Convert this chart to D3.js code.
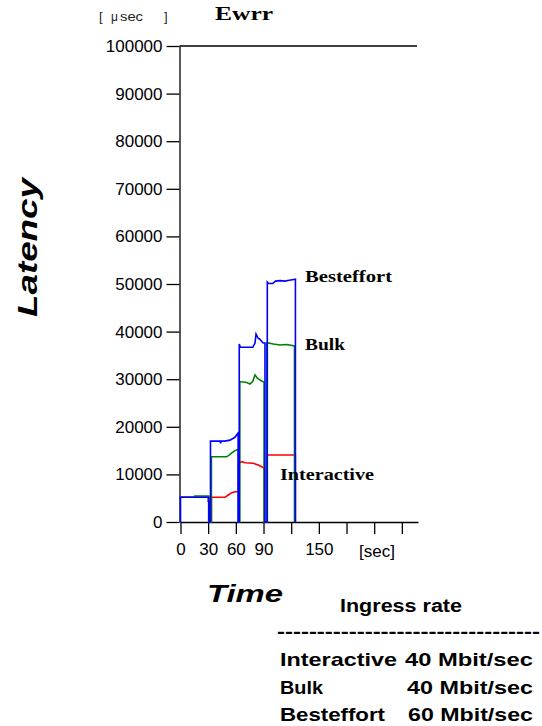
<!DOCTYPE html>
<html>
<head>
<meta charset="utf-8">
<script src="https://cdn.jsdelivr.net/npm/d3@7"></script>
<style>
  html, body { margin: 0; padding: 0; background: #fff; }
  svg { display: block; }
</style>
</head>
<body>
<script>
// ---- Data (time in sec, latency in microseconds) ----
const latencyTicks = [0, 10000, 20000, 30000, 40000, 50000, 60000, 70000, 80000, 90000, 100000];
const timeTicks = [0, 30, 60, 90, 120, 150, 180, 210, 240];
const timeTickLabels = ["0", "30", "60", "90", "", "150", "", "", ""];

const interactiveSeries = [
  [0, 5200], [31, 5200], [31, 0], [33.5, 0], [33.5, 5200], [48.3, 5200], [51.9, 5670], [55.5, 6160],
  [59.1, 6370], [62.9, 6370], [62.9, 12330], [66.3, 12670], [69.9, 12460], [78.9, 12330],
  [84.3, 11970], [88, 11600], [91, 11260], [91, 0], [93.8, 0], [93.8, 14080], [124.5, 14080], [124.5, 0]
];
const bulkSeries = [
  [0, 5200], [15.5, 5200], [15.5, 5450], [30.5, 5450], [30.5, 0], [33.5, 0], [33.5, 13700], [50, 13700],
  [53, 14100], [56, 14560], [59, 15000], [62.7, 15300], [62.7, 0], [64.3, 0], [64.3, 29500],
  [71.8, 29300], [75.4, 29000], [78.3, 29500], [80.8, 30900], [83.3, 30200], [88, 29600],
  [90.6, 29400], [90.6, 0], [93.6, 0], [93.6, 37670], [100.7, 37400], [108, 37200], [115.2, 37300],
  [123.6, 37000], [123.6, 0]
];
const bestEffortSeries = [
  [0, 0], [0, 5200], [30.2, 5200], [30.2, 4300], [30.8, 4300], [30.8, 0], [32.5, 0], [32.5, 17000],
  [43, 17000], [43.5, 16500], [44, 17000], [48, 17000], [53.7, 17200], [59, 17800], [62.5, 18700],
  [62.5, 0], [63.7, 0], [63.7, 37400], [64.8, 36700], [78.3, 36700], [80.8, 37600], [81.9, 39500],
  [84.2, 38600], [86, 38400], [89.6, 37600], [91.6, 37600], [91.6, 0], [94.1, 0], [94.1, 50400],
  [95.5, 50100], [100, 50100], [103, 50600], [108, 50700], [113, 50600], [118, 50800],
  [124.6, 51000], [124.6, 0]
];
const seriesNames = ["Interactive", "Bulk", "Besteffort"];
const seriesColors = ["#ff0000", "#008000", "#0000ff"];
const ingressNames = ["Interactive", "Bulk", "Besteffort"];
const ingressRates = ["40 Mbit/sec", "40 Mbit/sec", "60 Mbit/sec"];

// ---- Chart ----
const W = 542, H = 726;
const svg = d3.select("body").append("svg").attr("width", W).attr("height", H);
svg.append("rect").attr("width", W).attr("height", H).attr("fill", "#fff");

const x = d3.scaleLinear().domain([0, 257.5]).range([180.5, 418]);
const y = d3.scaleLinear().domain([0, 100000]).range([522, 46]);

const sans = "'Liberation Sans', Arial, sans-serif";
const serif = "'Liberation Serif', 'Times New Roman', serif";

// Y axis
const yAxis = svg.append("g").attr("transform", "translate(179.5,0)")
  .call(d3.axisLeft(y).tickValues(latencyTicks).tickSize(13).tickSizeOuter(0).tickPadding(4)
    .tickFormat(d3.format("d")));
yAxis.selectAll("text").attr("font-family", sans).attr("font-size", 17).attr("fill", "#000");
yAxis.selectAll("line, path").attr("stroke", "#000").attr("stroke-width", 1.3);

// top line at 100000
svg.append("line").attr("x1", x(0) - 1).attr("x2", 417).attr("y1", y(100000)).attr("y2", y(100000))
  .attr("stroke", "#000").attr("stroke-width", 1.3);

// X axis
const xAxis = svg.append("g").attr("transform", "translate(0,522)")
  .call(d3.axisBottom(x).tickValues(timeTicks).tickSize(12).tickSizeOuter(0).tickPadding(9)
    .tickFormat((d, i) => timeTickLabels[i]));
xAxis.selectAll("text").attr("font-family", sans).attr("font-size", 17).attr("fill", "#000");
xAxis.selectAll("line, path").attr("stroke", "#000").attr("stroke-width", 1.3);
svg.append("text").attr("x", x(213)).attr("y", 557).attr("text-anchor", "middle")
  .attr("font-family", sans).attr("font-size", 17).text("[sec]");

// Series
const line = d3.line().x(d => x(d[0])).y(d => y(d[1]));
const allSeries = [interactiveSeries, bulkSeries, bestEffortSeries];
allSeries.forEach((s, i) => {
  svg.append("path").datum(s).attr("d", line).attr("fill", "none")
    .attr("stroke", seriesColors[i]).attr("stroke-width", 1.6);
});

// Series labels
const seriesLabelPos = [[280, 480, 94], [305, 350, 40], [305, 282, 87]];
seriesNames.forEach((n, i) => {
  const p = seriesLabelPos[i];
  svg.append("text").attr("x", p[0]).attr("y", p[1]).attr("font-family", serif)
    .attr("font-weight", "bold").attr("font-size", 16)
    .attr("textLength", p[2]).attr("lengthAdjust", "spacingAndGlyphs").text(n);
});

// Titles
svg.append("text").attr("x", 215).attr("y", 20).attr("font-family", serif).attr("font-weight", "bold")
  .attr("font-size", 18).attr("textLength", 58).attr("lengthAdjust", "spacingAndGlyphs").text("Ewrr");
const unitG = svg.append("g").attr("font-family", sans).attr("font-size", 13).attr("fill", "#222");
unitG.append("text").attr("x", 99).attr("y", 21).text("[");
unitG.append("text").attr("x", 111).attr("y", 21).attr("font-size", 12).text("μ");
unitG.append("text").attr("x", 120).attr("y", 21).attr("textLength", 23).attr("lengthAdjust", "spacingAndGlyphs").text("sec");
unitG.append("text").attr("x", 164).attr("y", 21).text("]");

svg.append("text").attr("transform", "translate(37,247.5) rotate(-90)").attr("text-anchor", "middle")
  .attr("font-family", sans).attr("font-weight", "bold").attr("font-style", "italic").attr("font-size", 28)
  .attr("textLength", 139).attr("lengthAdjust", "spacingAndGlyphs").text("Latency");

svg.append("text").attr("x", 207).attr("y", 602).attr("font-family", sans).attr("font-weight", "bold")
  .attr("font-style", "italic").attr("font-size", 24).attr("textLength", 76)
  .attr("lengthAdjust", "spacingAndGlyphs").text("Time");

svg.append("text").attr("x", 340).attr("y", 612).attr("font-family", sans).attr("font-weight", "bold")
  .attr("font-size", 18).attr("textLength", 122).attr("lengthAdjust", "spacingAndGlyphs").text("Ingress rate");

svg.append("text").attr("x", 277).attr("y", 638).attr("font-family", sans).attr("font-weight", "bold")
  .attr("font-size", 18).attr("textLength", 263).attr("lengthAdjust", "spacingAndGlyphs")
  .text("---------------------------------");

const ingressY = [666, 694, 721];
const ingressNameW = [117, 43, 105];
const ingressRateX = [405, 407, 408];
ingressNames.forEach((n, i) => {
  svg.append("text").attr("x", 280).attr("y", ingressY[i]).attr("font-family", sans)
    .attr("font-weight", "bold").attr("font-size", 18.5)
    .attr("textLength", ingressNameW[i]).attr("lengthAdjust", "spacingAndGlyphs").text(n);
  svg.append("text").attr("x", ingressRateX[i]).attr("y", ingressY[i])
    .attr("font-family", sans).attr("font-weight", "bold").attr("font-size", 18.5)
    .attr("textLength", 533 - ingressRateX[i]).attr("lengthAdjust", "spacingAndGlyphs").text(ingressRates[i]);
});
</script>
</body>
</html>
